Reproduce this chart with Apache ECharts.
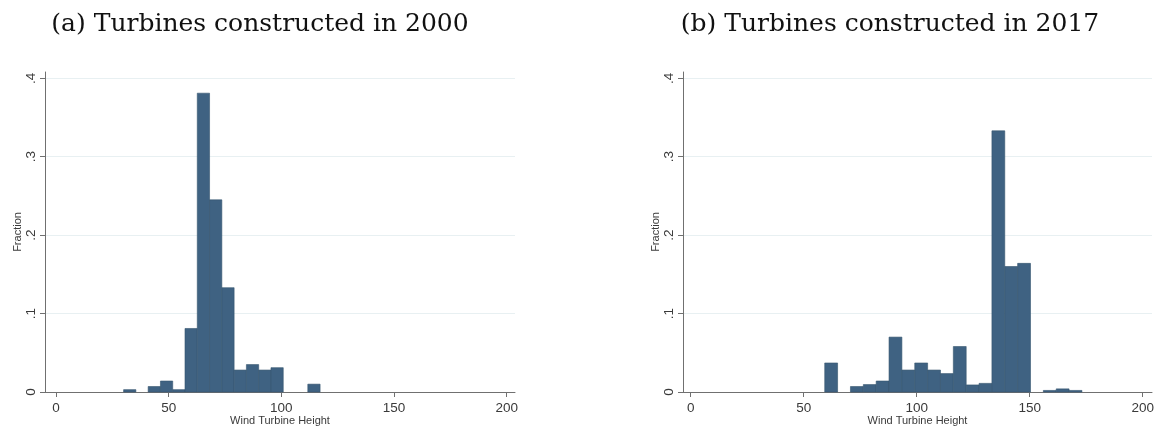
<!DOCTYPE html>
<html>
<head>
<meta charset="utf-8">
<script src="https://cdn.jsdelivr.net/npm/echarts@6/dist/echarts.min.js"></script>
<style>
  html, body { margin: 0; padding: 0; background: #fff; }
  #chart { width: 1156px; height: 431px; }
</style>
</head>
<body>
<div id="chart"></div>
<script>
// histogram bins (wind turbine height), fraction per bin
const bins2000Start = 30
const bins2000Width = 5.45
const fraction2000 = [0.003, 0, 0.007, 0.014, 0.003, 0.081, 0.381, 0.245, 0.133, 0.028, 0.035, 0.028, 0.031, 0, 0, 0.010]

const bins2017Start = 59.3
const bins2017Width = 5.69
const fraction2017 = [0.037, 0, 0.007, 0.0095, 0.014, 0.07, 0.028, 0.037, 0.028, 0.0235, 0.058, 0.009, 0.011, 0.333, 0.16, 0.164, 0, 0.002, 0.004, 0.002]

const xTicks = [0, 50, 100, 150, 200]
const yTicks = [0, 0.1, 0.2, 0.3, 0.4]

const titles = ['(a) Turbines constructed in 2000', '(b) Turbines constructed in 2017']

const barColor = '#3f6282'
const textColor = '#3a3a3a'
const axisColor = '#707070'

function toBars (start, width, values) {
    let out = []
    for (let i = 0; i < values.length; i++) {
        out.push([start + i * width, start + (i + 1) * width, values[i]])
    }
    return out
}

function renderBar (params, api) {
    let p0 = api.coord([api.value(0), api.value(2)])
    let p1 = api.coord([api.value(1), 0])
    if (api.value(2) <= 0) return
    return {
        type: 'rect',
        shape: { x: p0[0], y: p0[1], width: p1[0] - p0[0], height: p1[1] - p0[1] },
        style: { fill: barColor, stroke: '#35556f', lineWidth: 0.6 }
    }
}

function makeXAxis (gridIndex, min, max) {
    return {
        gridIndex: gridIndex,
        type: 'value',
        min: min,
        max: max,
        name: 'Wind Turbine Height',
        nameLocation: 'middle',
        nameGap: 23,
        nameMoveOverlap: false,
        nameTextStyle: { fontFamily: 'Liberation Sans', fontSize: 11, color: textColor },
        axisLine: { show: true, onZero: false, lineStyle: { color: axisColor, width: 1 } },
        axisTick: { show: true, customValues: xTicks, length: 5, lineStyle: { color: axisColor } },
        axisLabel: {
            customValues: xTicks,
            margin: 9,
            fontFamily: 'Liberation Sans',
            fontSize: 13.5,
            color: textColor
        },
        splitLine: { show: false }
    }
}

function makeYAxis (gridIndex) {
    return {
        gridIndex: gridIndex,
        type: 'value',
        min: 0,
        max: 0.408,
        name: 'Fraction',
        nameLocation: 'middle',
        nameGap: 22,
        nameTextStyle: { fontFamily: 'Liberation Sans', fontSize: 11, color: textColor },
        axisLine: { show: true, onZero: false, lineStyle: { color: axisColor, width: 1 } },
        axisTick: { show: true, customValues: yTicks, length: 5, lineStyle: { color: axisColor } },
        axisLabel: {
            customValues: yTicks,
            rotate: 90,
            margin: 7,
            fontFamily: 'Liberation Sans',
            fontSize: 13.5,
            color: textColor,
            formatter: function (v) { return v === 0 ? '0' : '.' + Math.round(v * 10) }
        },
        splitLine: { show: true, lineStyle: { color: '#e8f0f2', width: 1 } }
    }
}

const chart = echarts.init(document.getElementById('chart'))

chart.setOption({
    animation: false,
    title: [
        { text: titles[0], left: 255, top: 7, textAlign: 'center',
          textStyle: { fontFamily: 'DejaVu Serif', fontWeight: 'normal', fontSize: 25, color: '#111' } },
        { text: titles[1], left: 885, top: 7, textAlign: 'center',
          textStyle: { fontFamily: 'DejaVu Serif', fontWeight: 'normal', fontSize: 25, color: '#111' } }
    ],
    grid: [
        { left: 45, top: 72, width: 470, height: 320, outerBoundsMode: 'none' },
        { left: 683, top: 72, width: 469, height: 320, outerBoundsMode: 'none' }
    ],
    xAxis: [makeXAxis(0, -4.88, 203.7), makeXAxis(1, -3.41, 204.1)],
    yAxis: [makeYAxis(0), makeYAxis(1)],
    series: [
        {
            type: 'custom',
            xAxisIndex: 0,
            yAxisIndex: 0,
            renderItem: renderBar,
            encode: { x: [0, 1], y: 2 },
            data: toBars(bins2000Start, bins2000Width, fraction2000)
        },
        {
            type: 'custom',
            xAxisIndex: 1,
            yAxisIndex: 1,
            renderItem: renderBar,
            encode: { x: [0, 1], y: 2 },
            data: toBars(bins2017Start, bins2017Width, fraction2017)
        }
    ]
})
</script>
</body>
</html>
